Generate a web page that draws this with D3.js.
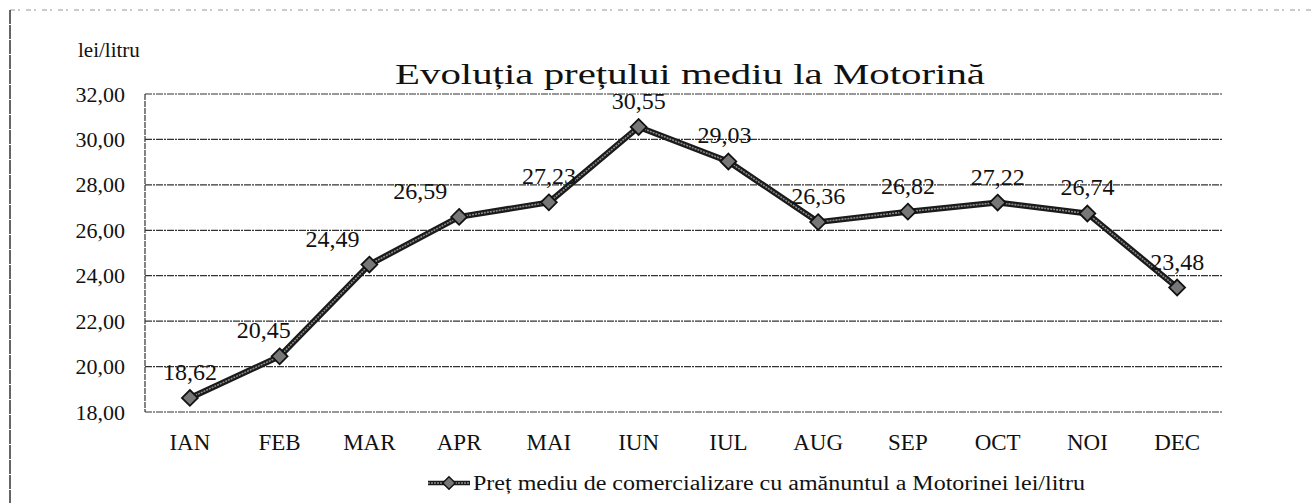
<!DOCTYPE html>
<html>
<head>
<meta charset="utf-8">
<script src="https://cdn.jsdelivr.net/npm/d3@7"></script>
<style>
  body { margin: 0; background: #fff; }
  text { font-family: "Liberation Serif", "Times New Roman", serif; fill: #111; }
</style>
</head>
<body>
<div id="chart"></div>
<script>
// data
var months = ['IAN', 'FEB', 'MAR', 'APR', 'MAI', 'IUN', 'IUL', 'AUG', 'SEP', 'OCT', 'NOI', 'DEC'];
var prices = [18.62, 20.45, 24.49, 26.59, 27.23, 30.55, 29.03, 26.36, 26.82, 27.22, 26.74, 23.48];
var yTicks = [18, 20, 22, 24, 26, 28, 30, 32];
var titleText = 'Evoluția prețului mediu la Motorină';
var unitText = 'lei/litru';
var legendText = 'Preț mediu de comercializare cu amănuntul a Motorinei lei/litru';

// label nudges (px) so labels sit where the original had them
var labelDx = [0, -16, -37, -39, 0, 0, -4, 0, 0, 0, 0, 0];

var W = 1312, H = 503;
var margin = {top: 94, right: 90, bottom: 91, left: 145};
var width = W - margin.left - margin.right;
var height = H - margin.top - margin.bottom;

var svg = d3.select('#chart').append('svg')
    .attr('width', W)
    .attr('height', H);

// scanned page borders
svg.append('line')
    .attr('x1', 10).attr('y1', 10).attr('x2', W).attr('y2', 10)
    .style('stroke', '#999').style('stroke-width', 1.2)
    .style('stroke-dasharray', '5,3,2,6');
svg.append('line')
    .attr('x1', 10).attr('y1', 10).attr('x2', 10).attr('y2', H)
    .style('stroke', '#333').style('stroke-width', 1.5)
    .style('stroke-dasharray', '14,1');

var g = svg.append('g')
    .attr('transform', 'translate(' + margin.left + ',' + margin.top + ')');

var xScale = d3.scaleBand()
    .domain(months)
    .range([0, width]);
var yScale = d3.scaleLinear()
    .domain([18, 32])
    .range([height, 0]);

// gridlines
g.selectAll('.grid')
    .data(yTicks)
    .enter().append('line')
    .attr('class', 'grid')
    .attr('x1', 0).attr('x2', width)
    .attr('y1', function(d) { return yScale(d); })
    .attr('y2', function(d) { return yScale(d); })
    .style('stroke', '#333')
    .style('stroke-width', 1.2)
    .style('stroke-dasharray', '7,1,2,1');

// left border of plot
g.append('line')
    .attr('x1', 0).attr('x2', 0)
    .attr('y1', 0).attr('y2', height)
    .style('stroke', '#333')
    .style('stroke-width', 1.2)
    .style('stroke-dasharray', '6,1');

// y axis labels
var yAxis = d3.axisLeft(yScale)
    .tickValues(yTicks)
    .tickSize(0)
    .tickPadding(20)
    .tickFormat(function(d) { return d.toFixed(2).replace('.', ','); });
var yG = g.append('g').call(yAxis);
yG.select('.domain').remove();
yG.selectAll('text')
    .style('font-size', '22px')
    .style('font-family', '"Liberation Serif", serif')
    .attr('fill', '#111');

// x axis labels
var xAxis = d3.axisBottom(xScale).tickSize(0).tickPadding(22);
var xG = g.append('g')
    .attr('transform', 'translate(0,' + height + ')')
    .call(xAxis);
xG.select('.domain').remove();
xG.selectAll('text')
    .style('font-size', '23px')
    .style('font-family', '"Liberation Serif", serif')
    .attr('fill', '#111');

// line
var cx = function(d, i) { return xScale(months[i]) + xScale.bandwidth() / 2; };
var line = d3.line()
    .x(function(d, i) { return cx(d, i); })
    .y(function(d) { return yScale(d); });

g.append('path')
    .datum(prices)
    .attr('fill', 'none')
    .attr('stroke', '#1a1a1a')
    .attr('stroke-width', 6)
    .attr('stroke-linejoin', 'round')
    .attr('d', line);
g.append('path')
    .datum(prices)
    .attr('fill', 'none')
    .attr('stroke', '#8a8a8a')
    .attr('stroke-width', 1.6)
    .attr('stroke-dasharray', '2,1')
    .attr('d', line);

// markers
var diamond = d3.symbol().type(d3.symbolDiamond2).size(160);
g.selectAll('.pt')
    .data(prices)
    .enter().append('path')
    .attr('class', 'pt')
    .attr('transform', function(d, i) { return 'translate(' + cx(d, i) + ',' + yScale(d) + ')'; })
    .attr('d', diamond)
    .attr('fill', '#777')
    .attr('stroke', '#111')
    .attr('stroke-width', 1.8);

// data labels
g.selectAll('.lbl')
    .data(prices)
    .enter().append('text')
    .attr('class', 'lbl')
    .attr('x', function(d, i) { return cx(d, i) + labelDx[i]; })
    .attr('y', function(d) { return yScale(d) - 18; })
    .attr('text-anchor', 'middle')
    .style('font-size', '24px')
    .text(function(d) { return d.toFixed(2).replace('.', ','); });

// title and unit
svg.append('text')
    .attr('x', 395)
    .attr('y', 84)
    .attr('textLength', 590)
    .attr('lengthAdjust', 'spacingAndGlyphs')
    .style('font-size', '29px')
    .text(titleText);
svg.append('text')
    .attr('x', 78)
    .attr('y', 57)
    .style('font-size', '21px')
    .text(unitText);

// legend
var legX = 428, legY = 490;
svg.append('line')
    .attr('x1', legX).attr('x2', legX + 42)
    .attr('y1', legY - 7).attr('y2', legY - 7)
    .style('stroke', '#1a1a1a').style('stroke-width', 4.5);
svg.append('line')
    .attr('x1', legX).attr('x2', legX + 42)
    .attr('y1', legY - 7).attr('y2', legY - 7)
    .style('stroke', '#8a8a8a').style('stroke-width', 1.3)
    .style('stroke-dasharray', '2,1');
svg.append('path')
    .attr('transform', 'translate(' + (legX + 21) + ',' + (legY - 7) + ')')
    .attr('d', d3.symbol().type(d3.symbolDiamond2).size(100))
    .attr('fill', '#777')
    .attr('stroke', '#111')
    .attr('stroke-width', 1.4);
svg.append('text')
    .attr('x', legX + 45)
    .attr('y', legY)
    .attr('textLength', 612)
    .attr('lengthAdjust', 'spacingAndGlyphs')
    .style('font-size', '20px')
    .text(legendText);
</script>
</body>
</html>
